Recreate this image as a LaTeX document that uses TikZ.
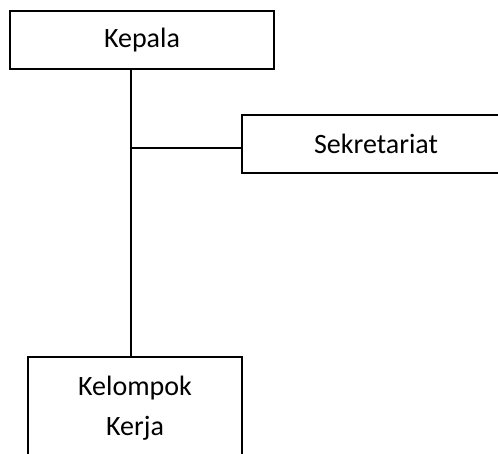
\documentclass[tikz,border=0pt]{standalone}
\usepackage{fontspec}
\setmainfont{Carlito}
\usetikzlibrary{positioning, calc}
\tikzset{
    % Boxes
    unit/.style={rectangle, draw=black, line width=1.5pt, fill=white,
                 align=center, inner sep=0pt, font=\fontsize{28}{40}\selectfont},
    % Lines
    link/.style={draw=black, line width=1.5pt}
}
\begin{document}
\begin{tikzpicture}[x=1pt, y=-1pt]
\useasboundingbox (0,0) rectangle (498,454);

\node[unit, minimum width=264pt, minimum height=58pt] (kepala) at (142,40) {Kepala};
\node[unit, minimum width=268pt, minimum height=58pt] (sekretariat) at (376,144) {Sekretariat};
\node[unit, minimum width=214pt, minimum height=102pt] (pokja) at (135,408) {Kelompok\\Kerja};

\coordinate (spine) at (131,148);

\draw[link] (kepala.south -| spine) -- (pokja.north -| spine);
\draw[link] (spine) -- (sekretariat.west |- spine);

\end{tikzpicture}
\end{document}
